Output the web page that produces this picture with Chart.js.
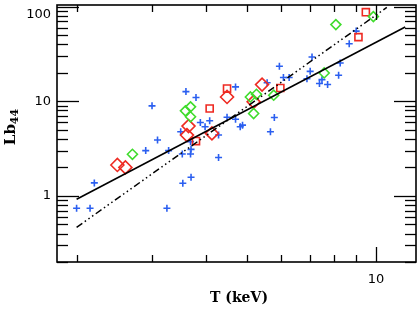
<!DOCTYPE html>
<html>
<head>
<meta charset="utf-8">
<script src="https://cdn.jsdelivr.net/npm/chart.js@4/dist/chart.umd.min.js"></script>
<style>
body { margin: 0; background: #fff; }
#grafico { display: block; }
</style>
</head>
<body>
<canvas id="grafico" width="419" height="309"></canvas>
<script>
// Cruces azules (T en keV, Lb44)
var cruzT = [2.00, 2.15, 2.20, 2.90, 3.00, 3.09, 3.25, 3.28, 3.50, 3.53, 3.54, 3.60, 3.69, 3.69, 3.70, 3.70,
    3.80, 3.89, 3.99, 4.09, 4.29, 4.29, 4.49, 4.70, 4.70, 4.82, 4.88, 5.57, 5.67, 5.79, 5.95, 6.08,
    6.27, 6.90, 7.02, 7.09, 7.38, 7.48, 7.71, 8.18, 8.25, 8.66, 8.99];
var cruzL = [0.74, 0.74, 1.37, 3.01, 8.94, 3.89, 0.74, 3.01, 4.76, 2.77, 1.36, 12.65, 3.74, 2.77, 3.10, 1.57,
    10.94, 5.97, 5.38, 6.22, 4.39, 2.54, 6.78, 14.18, 6.46, 5.38, 5.59, 15.7, 4.76, 6.74, 23.4, 17.8,
    17.8, 17.3, 20.7, 29.3, 15.4, 16.9, 15.0, 18.8, 25.4, 40.5, 55.1];
// Cuadrados rojos
var cuadT = [4.49, 4.09, 5.98, 3.80, 9.47, 9.10];
var cuadL = [13.6, 8.38, 13.8, 3.79, 87.3, 47.6];
// Rombos rojos
var rombRojoT = [2.49, 2.60, 4.49, 3.65, 3.62, 4.14, 5.42, 5.18];
var rombRojoL = [2.12, 2.00, 11.1, 5.46, 4.39, 4.57, 15.0, 9.86];
// Rombos verdes
var rombVerdeT = [2.70, 3.69, 3.59, 3.69, 5.09, 5.26, 5.18, 5.77, 8.06, 9.86, 7.57];
var rombVerdeL = [2.75, 8.73, 7.92, 6.85, 11.1, 11.85, 7.42, 11.57, 64.6, 78.5, 19.9];
// Rectas de ajuste
var rectaT = [2.0, 11.7];
var rectaL = [0.92, 61];
var punteadaT = [2.0, 10.6];
var punteadaL = [0.465, 98];
// Etiquetas y marcas de los ejes
var etiquetasX = [10];
var etiquetasY = [1, 10, 100];
var marcasX = [2, 3, 4, 5, 6, 7, 8, 9, 10];
var marcasY = [0.2, 0.3, 0.4, 0.5, 0.6, 0.7, 0.8, 0.9, 1, 2, 3, 4, 5, 6, 7, 8, 9, 10,
    20, 30, 40, 50, 60, 70, 80, 90, 100];

function puntos(xs, ys) {//junta los dos arrays en {x,y}
    var res = [];
    for (var i = 0; i < xs.length; i++) {
        res.push({ x: xs[i], y: ys[i] });
    }
    return res;
}

function esDecada(v) {
    var l = Math.log10(v);
    return Math.abs(l - Math.round(l)) < 1e-6;
}

function raya(c, x1, y1, x2, y2) {
    c.beginPath();
    c.moveTo(x1, y1);
    c.lineTo(x2, y2);
    c.stroke();
}

// marco y marcas hacia dentro (como en IDL)
var marcos = {
    id: 'marcos',
    afterDraw: function (chart) {
        var c = chart.ctx, a = chart.chartArea;
        var ex = chart.scales.x, ey = chart.scales.y;
        c.save();
        c.strokeStyle = '#000';
        c.lineWidth = 1.3;
        for (var i = 0; i < marcasX.length; i++) {
            var px = Math.round(ex.getPixelForValue(marcasX[i])) + 0.5;
            var largo = esDecada(marcasX[i]) ? 15 : 7;
            raya(c, px, a.bottom, px, a.bottom - largo);
            raya(c, px, a.top, px, a.top + largo);
        }
        for (var j = 0; j < marcasY.length; j++) {
            var py = Math.round(ey.getPixelForValue(marcasY[j])) + 0.5;
            var largoY = esDecada(marcasY[j]) ? 22 : 11;
            raya(c, a.left, py, a.left + largoY, py);
            raya(c, a.right, py, a.right - largoY, py);
        }
        c.lineWidth = 1.6;
        c.strokeRect(a.left, a.top, a.right - a.left, a.bottom - a.top);

        // titulos
        c.fillStyle = '#000';
        c.font = 'bold 14px "DejaVu Serif"';
        c.textAlign = 'center';
        c.textBaseline = 'alphabetic';
        c.fillText('T (keV)', 239, 302);

        c.translate(15, 127);
        c.rotate(-Math.PI / 2);
        c.textAlign = 'left';
        c.font = 'bold 15px "DejaVu Serif"';
        var w1 = c.measureText('Lb').width;
        c.font = 'bold 11px "DejaVu Serif"';
        var w2 = c.measureText('44').width;
        var x0 = -(w1 + w2) / 2;
        c.font = 'bold 15px "DejaVu Serif"';
        c.fillText('Lb', x0, 0);
        c.font = 'bold 11px "DejaVu Serif"';
        c.fillText('44', x0 + w1, 3);
        c.restore();
    }
};

var azul = '#2b5ff0', rojo = '#ee2a22', verde = '#3fdc2c';

var lienzo = document.getElementById('grafico');
new Chart(lienzo, {
    type: 'scatter',
    data: {
        datasets: [{
            data: puntos(rectaT, rectaL),
            showLine: true,
            borderColor: '#000',
            borderWidth: 1.6,
            pointRadius: 0
        }, {
            data: puntos(punteadaT, punteadaL),
            showLine: true,
            borderColor: '#000',
            borderWidth: 1.5,
            borderDash: [7, 3, 1.5, 3, 1.5, 3, 1.5, 3],
            pointRadius: 0
        }, {
            data: puntos(rombVerdeT, rombVerdeL),
            pointStyle: 'rectRot',
            pointRadius: 5,
            borderColor: verde,
            backgroundColor: 'rgba(0,0,0,0)',
            borderWidth: 1.6
        }, {
            data: puntos(rombRojoT, rombRojoL),
            pointStyle: 'rectRot',
            pointRadius: 6.5,
            borderColor: rojo,
            backgroundColor: 'rgba(0,0,0,0)',
            borderWidth: 1.6
        }, {
            data: puntos(cuadT, cuadL),
            pointStyle: 'rect',
            pointRadius: 5,
            borderColor: rojo,
            backgroundColor: 'rgba(0,0,0,0)',
            borderWidth: 1.6
        }, {
            data: puntos(cruzT, cruzL),
            pointStyle: 'cross',
            pointRadius: 3.5,
            borderColor: azul,
            borderWidth: 1.6
        }]
    },
    options: {
        responsive: false,
        animation: false,
        events: [],
        layout: { autoPadding: false, padding: { top: 5, right: 3, left: 0, bottom: 0 } },
        plugins: { legend: { display: false }, tooltip: { enabled: false } },
        scales: {
            x: {
                type: 'logarithmic',
                min: 1.8, max: 12.4,
                grid: { display: false, drawTicks: false },
                border: { display: false },
                ticks: {
                    autoSkip: false, maxRotation: 0, padding: 10,
                    color: '#000',
                    font: { family: '"DejaVu Sans"', size: 13 },
                    callback: function (v) { return etiquetasX.indexOf(v) >= 0 ? String(v) : ''; }
                },
                afterFit: function (s) { s.height = 47; s.paddingLeft = 0; s.paddingRight = 0; }
            },
            y: {
                type: 'logarithmic',
                min: 0.2, max: 104,
                grid: { display: false, drawTicks: false },
                border: { display: false },
                ticks: {
                    autoSkip: false, padding: 6,
                    color: '#000',
                    font: { family: '"DejaVu Sans"', size: 13 },
                    callback: function (v) {
                        if (etiquetasY.indexOf(v) < 0) return '';
                        return v == 100 ? ['', '100'] : String(v);//la de arriba va un poco mas abajo
                    }
                },
                afterFit: function (s) { s.width = 57; s.paddingTop = 0; s.paddingBottom = 0; }
            }
        }
    },
    plugins: [marcos]
});
</script>
</body>
</html>
